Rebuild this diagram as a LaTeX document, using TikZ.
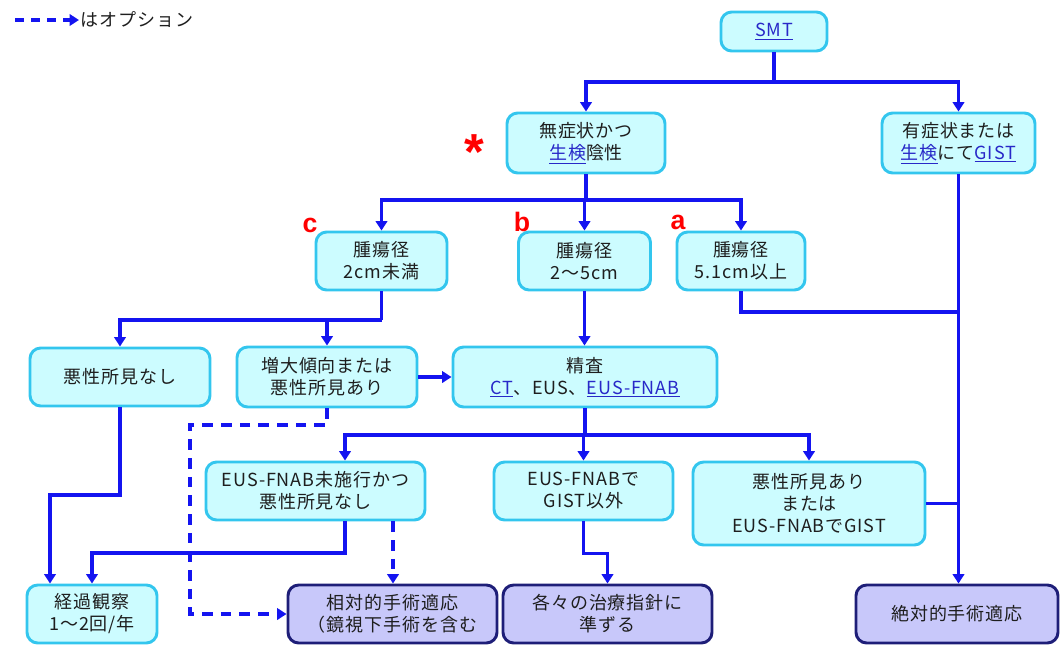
\documentclass[tikz,border=0pt]{standalone}
\usepackage{fontspec}
\setmainfont{Noto Sans CJK JP}[LetterSpace=5]
\newfontfamily\labfont{Liberation Sans}
\usetikzlibrary{arrows.meta}
\definecolor{boxfill}{HTML}{CCFCFF}
\definecolor{boxdraw}{HTML}{33C6EE}
\definecolor{opfill}{HTML}{C8C8FA}
\definecolor{opdraw}{HTML}{1E1E78}
\definecolor{lineblue}{HTML}{1414F0}
\definecolor{linkblue}{HTML}{2828C8}
\definecolor{txt}{HTML}{1E1E1E}
\newcommand{\lk}[1]{\textcolor{linkblue}{\underline{#1}}}
\begin{document}
\begin{tikzpicture}[x=0.75pt,y=-0.75pt,
 box/.style={draw=boxdraw, fill=boxfill, line width=2.2pt, rounded corners=8pt, align=center,
   font=\fontsize{13.5}{16.5}\selectfont, text=txt, inner sep=0pt},
 obox/.style={box, draw=opdraw, fill=opfill},
 conn/.style={draw=lineblue, line width=2.5pt},
 arr/.style={conn, -{Triangle[width=8.5pt,length=7pt]}},
 opt/.style={arr, dash pattern=on 8pt off 6pt},
 lab/.style={text=red, font=\labfont\fontsize{20}{20}\selectfont\bfseries}
]
\useasboundingbox (0,0) rectangle (1061,644);
% legend
\coordinate (l1) at (15,20);
\node[anchor=west, text=txt, font=\fontsize{13.5}{16}\selectfont, inner sep=1pt] (leg) at (79,20) {はオプション};
\draw[opt, dash pattern=on 7pt off 5pt] (l1) -- (leg.west);

% nodes
\node[box, minimum width=79.5pt, minimum height=29.25pt] (smt) at (774,31.5) {\lk{SMT}};
\node[box, minimum width=118.5pt, minimum height=45pt] (q) at (586,143) {無症状かつ\\\lk{生検}陰性};
\node[box, minimum width=114.75pt, minimum height=45pt] (sym) at (958.5,143) {有症状または\\\lk{生検}にて\lk{GIST}};
\node[box, minimum width=98.25pt, minimum height=43.5pt] (c) at (381.5,261) {腫瘍径\\2cm未満};
\node[box, minimum width=99pt, minimum height=43.5pt] (b) at (584.5,261) {腫瘍径\\2～5cm};
\node[box, minimum width=96pt, minimum height=43.5pt] (a) at (741,261) {腫瘍径\\5.1cm以上};
\node[box, minimum width=135pt, minimum height=43.5pt] (n1) at (120,377) {悪性所見なし};
\node[box, minimum width=135pt, minimum height=45pt] (inc) at (327,377) {増大傾向または\\悪性所見あり};
\node[box, minimum width=198pt, minimum height=45pt] (sei) at (585,377) {精査\\\lk{CT}、EUS、\lk{EUS-FNAB}};
\node[box, minimum width=164.25pt, minimum height=43.5pt] (r1) at (315.5,491) {EUS-FNAB未施行かつ\\悪性所見なし};
\node[box, minimum width=134.25pt, minimum height=43.5pt] (r2) at (583.5,491) {EUS-FNABで\\GIST以外};
\node[box, minimum width=174pt, minimum height=62.25pt] (r3) at (809,503.5) {悪性所見あり\\または\\EUS-FNABでGIST};
\node[box, minimum width=97.5pt, minimum height=43.5pt] (o1) at (92,614) {経過観察\\1～2回/年};
\node[obox, minimum width=156.75pt, minimum height=43.5pt] (o2) at (392.5,614) {相対的手術適応\\（鏡視下手術を含む};
\node[obox, minimum width=156.75pt, minimum height=43.5pt] (o3) at (607.5,614) {各々の治療指針に\\準ずる};
\node[obox, minimum width=151.5pt, minimum height=43.5pt] (o4) at (957,614) {絶対的手術適応};

% labels
\node[lab] (lc) at (310,225) {c};
\node[lab] (lb) at (522,222) {b};
\node[lab] (la) at (678,222) {a};
\node[text=red, font=\labfont\fontsize{38}{38}\selectfont\bfseries] (ast) at (474,152) {*};

% helper coordinates
\coordinate (y82) at (774,82);
\coordinate (y200) at (586,200);
\coordinate (y320) at (381.5,320);
\coordinate (ay) at (958.5,312);
\coordinate (d1) at (190,425);
\coordinate (y435) at (585,435);
\coordinate (x345) at (345,0);
\coordinate (x393) at (393,0);
\coordinate (k1) at (50,495);
\coordinate (y553) at (0,553);

% connectors
\draw[conn] (smt.south) -- (y82);
\draw[arr] (y82) -| (q.north);
\draw[arr] (y82) -| (sym.north);

\draw[conn] (q.south) -- (q.south |- y200);
\draw[arr] (q.south |- y200) -| (c.north);
\draw[arr] (q.south |- y200) -| (b.north);
\draw[arr] (q.south |- y200) -| (a.north);

\draw[conn] (c.south) -- (y320);
\draw[arr] (y320) -| (n1.north);
\draw[arr] (y320) -| (inc.north);

\draw[arr] (b.south) -- (b.south |- sei.north);
\draw[conn] (a.south) |- (ay);
\draw[arr] (sym.south) -- (sym.south |- o4.north);

\draw[arr] (inc.east) -- (sei.west);
\draw[opt] (inc.south) |- (d1) |- (o2.west);

\draw[conn] (sei.south) -- (y435);
\draw[arr] (y435) -| (x345 |- r1.north);
\draw[arr] (y435) -| (r2.north);
\draw[arr] (y435) -| (r3.north);

\draw[arr] (n1.south) |- (k1) -- (k1 |- o1.north);
\draw[arr] (x345 |- r1.south) |- (o1.north |- y553) -- (o1.north);
\draw[opt] (x393 |- r1.south) -- (x393 |- o2.north);
\draw[arr] (r2.south) -- ++(0,32) -| (o3.north);
\draw[conn] (r3.east) -- (sym.south |- r3.east);
\end{tikzpicture}
\end{document}
